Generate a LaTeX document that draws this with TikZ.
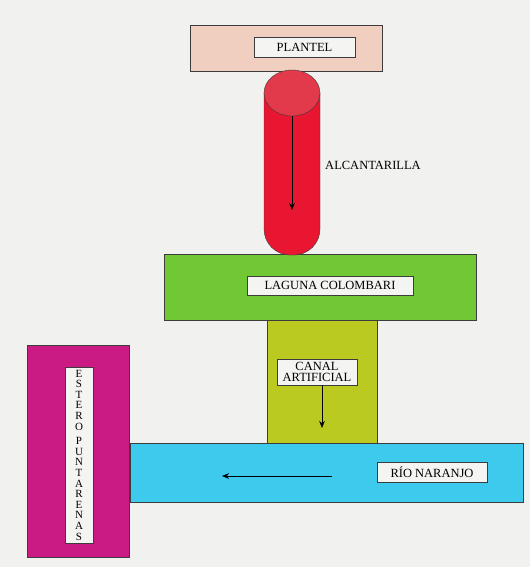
\documentclass[tikz,border=0pt]{standalone}
\usepackage{fontspec}
\setmainfont{Liberation Serif}
\usetikzlibrary{positioning, calc, shapes, arrows.meta}
\definecolor{bgc}{RGB}{241,241,240}
\definecolor{plantelc}{RGB}{240,206,192}
\definecolor{redc}{RGB}{232,22,48}
\definecolor{redtop}{RGB}{226,58,74}
\definecolor{greenc}{RGB}{112,200,52}
\definecolor{canalc}{RGB}{186,202,32}
\definecolor{bluec}{RGB}{62,202,236}
\definecolor{magc}{RGB}{202,26,132}
\definecolor{labelc}{RGB}{244,244,243}
\definecolor{linec}{RGB}{60,60,60}

\begin{document}
\begin{tikzpicture}[x=1pt, y=-1pt, >={Stealth[length=7pt,width=5.5pt]},
  block/.style={draw=linec, thin, shape=rectangle, inner sep=0pt},
  tag/.style={draw=linec, thin, fill=labelc, shape=rectangle, inner sep=0pt, align=center,
    font=\fontsize{12.5}{11}\selectfont},
  flow/.style={->, draw=black, thin}]
  \useasboundingbox[fill=bgc] (0,0) rectangle (530,567);
  % water bodies
  \node[block, fill=plantelc, minimum width=192pt, minimum height=46pt] (plantel) at (286,48) {};
  \node[block, fill=canalc, minimum width=110pt, minimum height=123pt] (canal) at (322,381.5) {};
  \node[block, fill=greenc, minimum width=312pt, minimum height=66pt] (laguna) at (320,287) {};
  \node[block, fill=bluec, minimum width=393pt, minimum height=59pt] (rio) at (326.5,472.5) {};
  \node[block, fill=magc, minimum width=102pt, minimum height=212pt] (estero) at (78,451) {};
  % alcantarilla (pipe)
  \draw[draw=linec, thin, fill=redc, rounded corners=26pt]
    (264,93) -- (264,255) -- (320,255) [sharp corners] -- (320,93) -- cycle;
  \node[draw=linec, thin, fill=redtop, ellipse, minimum width=56pt, minimum height=46pt, inner sep=0pt] (pipetop) at (292,93) {};
  \coordinate (pipeend) at (292,210);
  % labels
  \node[tag, minimum width=101pt, minimum height=20pt] (lplantel) at (304.5,47) {PLANTEL};
  \node[font=\fontsize{12.5}{11}\selectfont] (lalcant) at (373,165) {ALCANTARILLA};
  \node[tag, minimum width=166pt, minimum height=19pt] (llaguna) at (330,285.5) {LAGUNA COLOMBARI};
  \node[tag, minimum width=80pt, minimum height=26pt] (lcanal) at (317,372) {CANAL\\ARTIFICIAL};
  \node[tag, minimum width=110pt, minimum height=20pt] (lrio) at (432,472) {RÍO NARANJO};
  \node[tag, minimum width=28pt, minimum height=176pt, font=\fontsize{11}{10.6}\selectfont] (lestero) at (79,455)
    {E\\S\\T\\E\\R\\O\\[4pt]P\\U\\N\\T\\A\\R\\E\\N\\A\\S};
  \coordinate (canalend) at (322,428);
  \coordinate (riostart) at (332,476);
  \coordinate (rioend) at (222,476);
  % flow arrows
  \draw[flow] (pipetop.south) -- (pipeend);
  \draw[flow] (lcanal.south -| canalend) -- (canalend);
  \draw[flow] (riostart) -- (rioend);
\end{tikzpicture}
\end{document}
